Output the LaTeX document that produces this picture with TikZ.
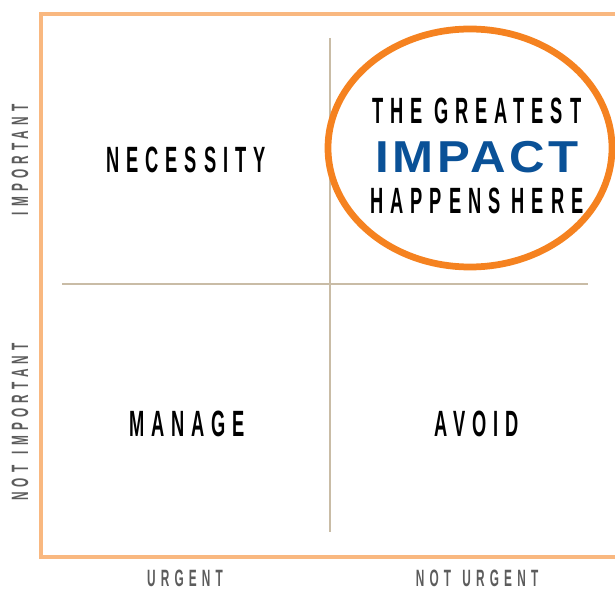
\documentclass[tikz,border=0pt]{standalone}
\usepackage{fontspec}
\setmainfont{Liberation Sans}
\newfontfamily\quadfont{Liberation Sans}[FakeStretch=0.5,LetterSpace=19]
\newfontfamily\axisfont{Liberation Sans}[FakeStretch=0.5,LetterSpace=22]
\newfontfamily\impactfont{Liberation Sans}[FakeStretch=1.1,LetterSpace=8]
\newcommand{\gap}{\hspace{8pt}}
\definecolor{framecol}{HTML}{F9B880}
\definecolor{splitcol}{HTML}{C9BCA6}
\definecolor{ringcol}{HTML}{F58220}
\definecolor{impactcol}{HTML}{0A5197}
\definecolor{axiscol}{HTML}{5C5C5C}
\tikzset{
  quad/.style={font=\quadfont\bfseries\fontsize{26}{28}\selectfont},
  axis/.style={font=\axisfont\bfseries\fontsize{16.8}{18}\selectfont,text=axiscol,inner sep=1pt}
}
\begin{document}
\begin{tikzpicture}[x=0.025cm,y=-0.025cm]
\useasboundingbox (0,0) rectangle (615,590);
% frame, open to the right
\draw[framecol,line width=2.6pt] (640,14) -- (41,14) -- (41,557) -- (640,557);
% the two dividers
\draw[splitcol,line width=2pt] (330,38) -- (330,532);
\draw[splitcol,line width=2pt] (62,284) -- (588,284);

% ring round the top right quadrant
\draw[ringcol,line width=4.8pt] (470,148) ellipse (142 and 119);

\node[quad] (necessity) at (186,160) {NECESSITY};
\node[quad] (manage) at (187,424) {MANAGE};
\node[quad] (avoid) at (477,424) {AVOID};

\node[quad] (greatest) at (477,111) {THE\gap GREATEST};
\node[font=\impactfont\bfseries\fontsize{31.8}{34}\selectfont,text=impactcol] (impact) at (477,157) {IMPACT};
\node[quad] (here) at (477,201) {HAPPENS\gap HERE};

\node[axis] (urgent) at (185,578) {URGENT};
\node[axis] (noturgent) at (477,578) {NOT\gap URGENT};
\node[axis,rotate=90] (important) at (20,160) {IMPORTANT};
\node[axis,rotate=90] (notimportant) at (20,422) {NOT\gap IMPORTANT};
\end{tikzpicture}
\end{document}
